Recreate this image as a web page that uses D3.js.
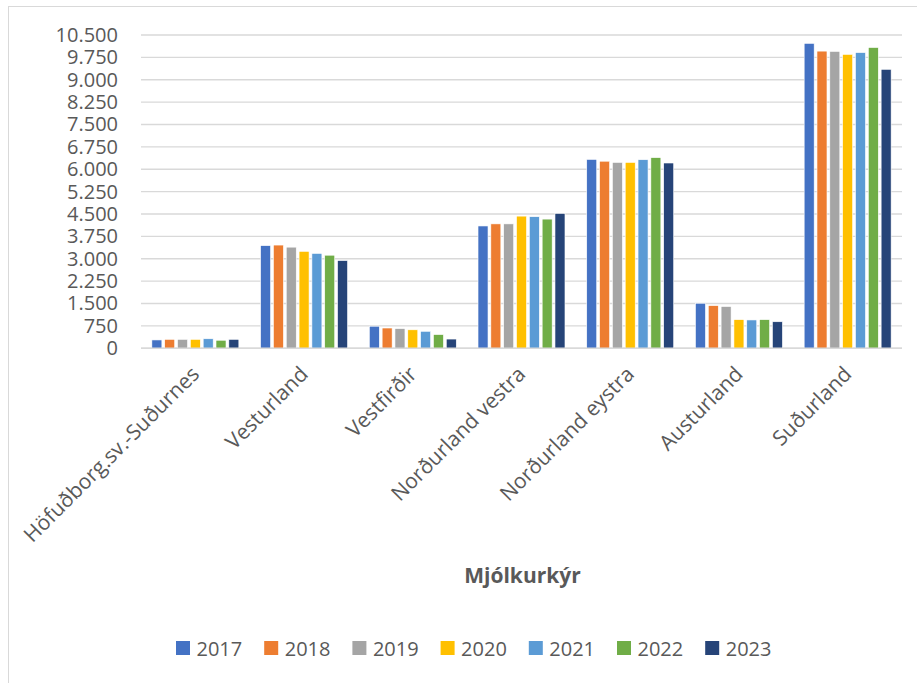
<!DOCTYPE html>
<html>
<head>
<meta charset="utf-8">
<script src="https://cdn.jsdelivr.net/npm/d3@7"></script>
<style>
  body { margin: 0; background: #fff; }
  svg { display: block; font-family: "Open Sans", sans-serif; }
</style>
</head>
<body>
<div id="chart"></div>
<script>
  // data
  var regions = ['Höfuðborg.sv.-Suðurnes', 'Vesturland', 'Vestfirðir', 'Norðurland vestra',
    'Norðurland eystra', 'Austurland', 'Suðurland'];
  var years = ['2017', '2018', '2019', '2020', '2021', '2022', '2023'];
  var v2017 = [280, 3440, 740, 4100, 6330, 1510, 10220];
  var v2018 = [300, 3460, 680, 4170, 6270, 1430, 9960];
  var v2019 = [300, 3390, 660, 4170, 6230, 1400, 9950];
  var v2020 = [300, 3250, 620, 4430, 6230, 960, 9850];
  var v2021 = [320, 3180, 570, 4410, 6320, 950, 9910];
  var v2022 = [270, 3120, 460, 4330, 6390, 960, 10080];
  var v2023 = [300, 2940, 310, 4520, 6210, 890, 9350];
  var series = [v2017, v2018, v2019, v2020, v2021, v2022, v2023];
  var yTicks = d3.range(0, 10501, 750);
  var colors = ['#4472C4', '#ED7D31', '#A5A5A5', '#FFC000', '#5B9BD5', '#70AD47', '#264478'];

  (function() {
    'use strict';

    var W = 917, H = 683;
    var m = { left: 141, right: 902, top: 35, bottom: 348.3 };

    var svg = d3.select('#chart').append('svg')
      .attr('width', W)
      .attr('height', H);

    // chart frame
    svg.append('rect')
      .attr('x', 8.5).attr('y', 6.5)
      .attr('width', 930).attr('height', 700)
      .attr('fill', 'none')
      .attr('stroke', '#d9d9d9')
      .attr('stroke-width', 1);

    var loc = d3.formatLocale({ decimal: ',', thousands: '.', grouping: [3], currency: ['', ''] });
    var fmt = loc.format(',d');

    var y = d3.scaleLinear().domain([0, 10500]).range([m.bottom, m.top]);
    var x0 = d3.scaleBand().domain(regions).range([m.left, m.right])
      .paddingInner(0.2).paddingOuter(0.1);
    var x1 = d3.scaleBand().domain(years).range([0, x0.bandwidth()])
      .paddingInner(0.22).paddingOuter(0);
    var color = d3.scaleOrdinal().domain(years).range(colors);

    // gridlines
    svg.append('g')
      .selectAll('line')
      .data(yTicks)
      .join('line')
      .attr('x1', m.left).attr('x2', m.right)
      .attr('y1', function(d) { return y(d); })
      .attr('y2', function(d) { return y(d); })
      .attr('stroke', '#d9d9d9')
      .attr('stroke-width', 1.4);

    // y axis labels
    var yAxis = d3.axisLeft(y).tickValues(yTicks).tickFormat(fmt).tickSize(0).tickPadding(23);
    var gy = svg.append('g')
      .attr('transform', 'translate(' + m.left + ',0)')
      .call(yAxis);
    gy.select('.domain').remove();
    gy.selectAll('text')
      .attr('fill', '#595959')
      .style('font-size', '20px')
      .style('font-family', '"Open Sans", sans-serif');

    // bars
    var groups = svg.append('g')
      .selectAll('g')
      .data(regions)
      .join('g')
      .attr('transform', function(d) { return 'translate(' + x0(d) + ',0)'; });

    groups.selectAll('rect')
      .data(function(d, i) {
        return years.map(function(yr, j) { return { year: yr, value: series[j][i] }; });
      })
      .join('rect')
      .attr('x', function(d) { return x1(d.year); })
      .attr('y', function(d) { return y(d.value); })
      .attr('width', x1.bandwidth())
      .attr('height', function(d) { return m.bottom - y(d.value); })
      .attr('fill', function(d) { return color(d.year); })
      .attr('stroke', '#ffffff')
      .attr('stroke-width', 0.6);

    // x axis line
    svg.append('line')
      .attr('x1', m.left).attr('x2', m.right)
      .attr('y1', m.bottom).attr('y2', m.bottom)
      .attr('stroke', '#d9d9d9')
      .attr('stroke-width', 1.4);

    // x labels
    svg.append('g')
      .selectAll('text')
      .data(regions)
      .join('text')
      .attr('transform', function(d) {
        return 'translate(' + (x0(d) + x0.bandwidth() / 2) + ',' + (m.bottom + 22) + ') rotate(-45)';
      })
      .attr('text-anchor', 'end')
      .attr('dy', '0.35em')
      .attr('fill', '#595959')
      .style('font-size', '21px')
      .text(function(d) { return d; });

    // axis title
    svg.append('text')
      .attr('x', (m.left + m.right) / 2 + 1)
      .attr('y', 583)
      .attr('text-anchor', 'middle')
      .attr('fill', '#595959')
      .style('font-size', '21px')
      .style('font-weight', 'bold')
      .text('Mjólkurkýr');

    // legend
    var legend = svg.append('g')
      .selectAll('g')
      .data(years)
      .join('g')
      .attr('transform', function(d, i) { return 'translate(' + (176 + i * 88.2) + ',641)'; });

    legend.append('rect')
      .attr('width', 14).attr('height', 14)
      .attr('fill', function(d) { return color(d); });

    legend.append('text')
      .attr('x', 20.5).attr('y', 14.5)
      .attr('fill', '#595959')
      .style('font-size', '20px')
      .text(function(d) { return d; });
  })();
</script>
</body>
</html>
